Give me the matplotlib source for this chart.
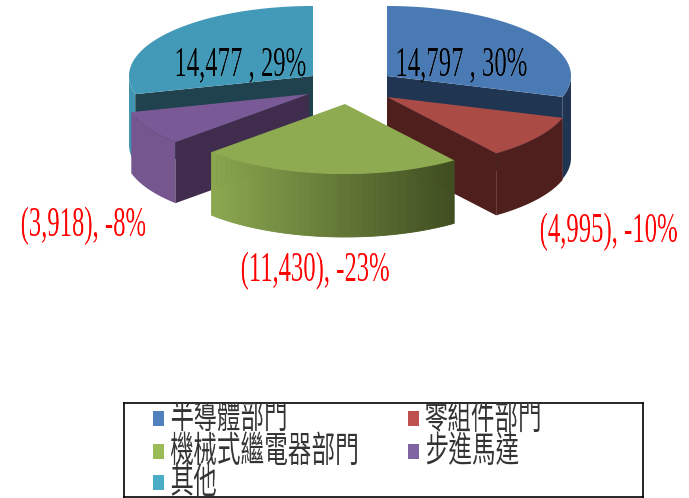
import numpy as np
import matplotlib
matplotlib.use('Agg')
import matplotlib.pyplot as plt
from matplotlib.colors import to_rgb
from matplotlib.patches import Polygon, Rectangle

categories = ['半導體部門', '零組件部門', '機械式繼電器部門', '步進馬達', '其他']
values = [14797, -4995, -11430, -3918, 14477]
percents = ['30%', '-10%', '-23%', '-8%', '29%']

top_colors = ['#4a7ab3', '#ab4b46', '#8fab52', '#7a5a96', '#439ab8']
cut_colors = ['#1f3552', '#4f1f1e', '#3f4d20', '#402d4e', '#1f424e']
wall_colors = ['#1f3552', '#4f1f1e', None, '#75568f', '#3f95b2']
legend_colors = ['#4f81bd', '#c0504d', '#9bbb59', '#8064a2', '#4bacc6']

# where each exploded slice ends up on the canvas, in pixels
apex_x = [387, 387, 345, 309, 313]
apex_y = [76, 97, 104, 94, 76]
depths = [82, 62, 63, 61, 69]
RX, RY = 184, 70

TEXT_SQUEEZE = 0.595
CJK_SQUEEZE = 0.655


# the original text is stretched tall, so narrow the drawn text afterwards
def squeeze(factor, right=False):
    def post(img, dpi):
        h, w = img.shape[:2]
        new_w = max(1, int(round(w * factor)))
        xs = np.linspace(0, w - 1, new_w)
        out = np.zeros((h, new_w, 4))
        for row in range(h):
            for c in range(4):
                out[row, :, c] = np.interp(xs, np.arange(w), img[row, :, c])
        return out, (w - new_w if right else 0), 0
    return post


def ellipse_point(i, theta):
    x = apex_x[i] + RX * np.sin(np.radians(theta))
    y = apex_y[i] - RY * np.cos(np.radians(theta))
    return x, y


def draw_slice(ax, i, start, end, cut_angle=None):
    angles = np.linspace(start, end, 120)
    xs, ys = ellipse_point(i, angles)
    d = depths[i]

    # outer wall, only the part facing the viewer
    front = (angles >= 90) & (angles <= 270)
    if front.any():
        wx, wy = xs[front], ys[front]
        if wall_colors[i] is None:
            # green slice has a left to right shading
            light = np.array(to_rgb('#8ba84f'))
            dark = np.array(to_rgb(cut_colors[i]))
            x_min, x_max = wx.min(), wx.max()
            for k in range(len(wx) - 1):
                t = (wx[k] - x_min) / (x_max - x_min)
                col = tuple((1 - t) * light + t * dark)
                ax.add_patch(Polygon([(wx[k], wy[k]), (wx[k + 1], wy[k + 1]),
                                      (wx[k + 1], wy[k + 1] + d), (wx[k], wy[k] + d)],
                                     closed=True, fc=col, ec=col, lw=0.6))
        else:
            pts = list(zip(wx, wy)) + list(zip(wx[::-1], wy[::-1] + d))
            ax.add_patch(Polygon(pts, closed=True, fc=wall_colors[i], ec='none'))

    # flat cut face
    if cut_angle is not None:
        cx, cy = ellipse_point(i, cut_angle)
        ax.add_patch(Polygon([(apex_x[i], apex_y[i]), (cx, cy), (cx, cy + d),
                              (apex_x[i], apex_y[i] + d)],
                             closed=True, fc=cut_colors[i], ec='none'))

    pts = [(apex_x[i], apex_y[i])] + list(zip(xs, ys))
    ax.add_patch(Polygon(pts, closed=True, fc=top_colors[i], ec='none'))


fig = plt.figure(figsize=(6.89, 4.98), dpi=100)
ax = fig.add_axes([0, 0, 1, 1])
ax.set_xlim(0, 689)
ax.set_ylim(498, 0)
ax.axis('off')

sizes = np.abs(values)
edges = np.concatenate([[0], np.cumsum(sizes) / sizes.sum() * 360])

# back slices first, front ones on top
draw_slice(ax, 4, edges[4], edges[5], cut_angle=edges[4])
draw_slice(ax, 0, edges[0], edges[1], cut_angle=edges[1])
draw_slice(ax, 3, edges[3], edges[4], cut_angle=edges[3])
draw_slice(ax, 1, edges[1], edges[2], cut_angle=edges[2])
draw_slice(ax, 2, edges[2], edges[3])


def money(v):
    return f'({-v:,})' if v < 0 else f'{v:,}'


label_pos = [(394, 75, 'left'), (678, 242, 'right'), (240, 281, 'left'),
             (20, 236, 'left'), (173, 75, 'left')]
for v, p, (x, y, ha) in zip(values, percents, label_pos):
    sep = ' , ' if v > 0 else ', '
    t = ax.text(x, y, money(v) + sep + p, family='Liberation Serif', fontsize=30, ha=ha,
                va='baseline', color='black' if v > 0 else 'red')
    t.set_agg_filter(squeeze(TEXT_SQUEEZE, right=ha == 'right'))

# legend box, text is clipped by it like in the original
lax = fig.add_axes([124 / 689, 1 - 497 / 498, 519 / 689, 94 / 498])
lax.set_xlim(124, 643)
lax.set_ylim(497, 403)
lax.set_xticks([])
lax.set_yticks([])
for s in lax.spines.values():
    s.set_linewidth(1.2)
    s.set_color('black')

legend_x = [153, 408, 153, 408, 153]
legend_y = [418, 418, 451, 451, 482]
for name, col, x, y in zip(categories, legend_colors, legend_x, legend_y):
    lax.add_patch(Rectangle((x, y - 7.5), 11, 15, fc=col, ec='none'))
    t = lax.text(x + 16, y + 1, name, family=['Noto Sans CJK TC', 'DejaVu Sans'], fontsize=26,
                 va='center', ha='left', color='#333333', clip_on=True)
    t.set_agg_filter(squeeze(CJK_SQUEEZE))

plt.savefig('out.png', dpi=100)
plt.close()
